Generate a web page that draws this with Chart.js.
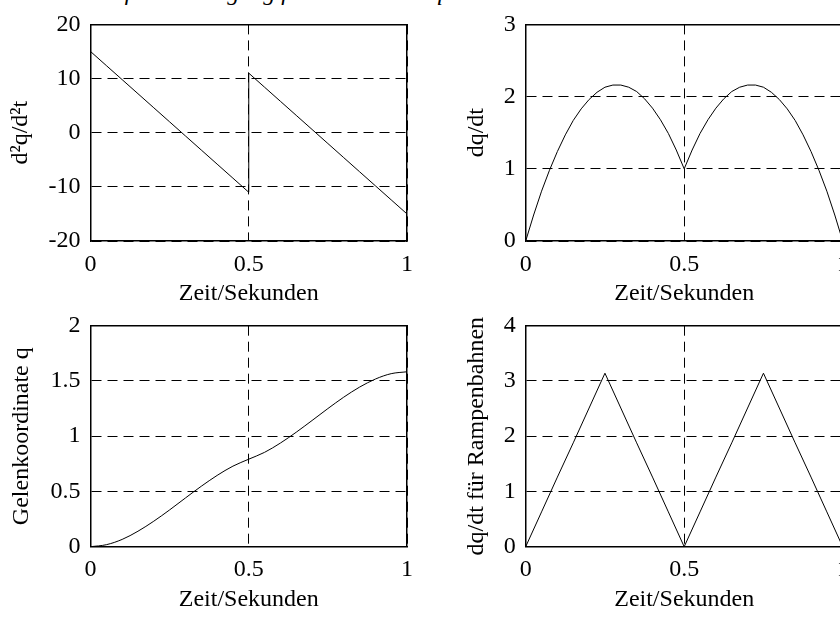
<!DOCTYPE html>
<html>
<head>
<meta charset="utf-8">
<script src="https://cdn.jsdelivr.net/npm/chart.js@4.4.0/dist/chart.umd.min.js"></script>
<style>
html,body{margin:0;padding:0;background:#fff;width:840px;height:617px;overflow:hidden;position:relative}
canvas{position:absolute}
#cap{position:absolute;left:62px;top:-20px;font:italic 24px "Liberation Serif",serif;line-height:24px;white-space:nowrap;color:#000}
</style>
</head>
<body>
<div id="cap">Verlauf der Bewegung für Bahnen mit quadratischem Ansatz</div>
<canvas id="c1" width="420" height="310" style="left:0;top:0"></canvas>
<canvas id="c2" width="480" height="310" style="left:420px;top:0"></canvas>
<canvas id="c3" width="420" height="317" style="left:0;top:300px"></canvas>
<canvas id="c4" width="480" height="317" style="left:420px;top:300px"></canvas>
<script>
// ---- data ----
const xTickValues = [0, 0.5, 1];

const zeit = [0,0.05,0.1,0.15,0.2,0.25,0.3,0.35,0.4,0.45,0.5,0.55,0.6,0.65,0.7,0.75,0.8,0.85,0.9,0.95,1];

const zeitBeschl = [0,0.05,0.1,0.15,0.2,0.25,0.3,0.35,0.4,0.45,0.5,0.5,0.55,0.6,0.65,0.7,0.75,0.8,0.85,0.9,0.95,1];
const beschleunigung = [15,12.4,9.8,7.2,4.6,2.0,-0.6,-3.2,-5.8,-8.4,-11.0,11.0,8.4,5.8,3.2,0.6,-2.0,-4.6,-7.2,-9.8,-12.4,-15];
const yTicksBeschl = [-20,-10,0,10,20];

const zeitFein = [0,0.025,0.05,0.075,0.1,0.125,0.15,0.175,0.2,0.225,0.25,0.275,0.3,0.325,0.35,0.375,0.4,0.425,0.45,0.475,0.5,
                  0.525,0.55,0.575,0.6,0.625,0.65,0.675,0.7,0.725,0.75,0.775,0.8,0.825,0.85,0.875,0.9,0.925,0.95,0.975,1];
const geschwindigkeit = [0,0.36,0.69,0.98,1.24,1.47,1.67,1.83,1.96,2.06,2.13,2.16,2.16,2.13,2.07,1.97,1.84,1.68,1.49,1.26,1.0,
                         1.26,1.49,1.68,1.84,1.97,2.07,2.13,2.16,2.16,2.13,2.06,1.96,1.83,1.67,1.47,1.24,0.98,0.69,0.36,0];
const yTicksGeschw = [0,1,2,3];

const gelenkkoordinate = [0,0.018,0.066,0.14,0.231,0.333,0.441,0.547,0.645,0.729,0.792,0.854,0.938,1.036,1.142,1.25,1.353,1.444,1.517,1.566,1.583];
const yTicksGelenk = [0,0.5,1,1.5,2];

const rampe = [0,0.63,1.26,1.88,2.51,3.14,2.51,1.88,1.26,0.63,0,0.63,1.26,1.88,2.51,3.14,2.51,1.88,1.26,0.63,0];
const yTicksRampe = [0,1,2,3,4];

const xTitle = 'Zeit/Sekunden';

// ---- chart construction ----
const FAMILY = '"Liberation Serif", "Times New Roman", serif';
const FONT = {family: FAMILY, size: 24};
const XTICK_FONT = {family: FAMILY, size: 24, lineHeight: '47px'};
const HALF_LH = FONT.size * 1.2 / 2;
const fmt = v => String(v);

function subplot(id, xs, ys, yTicks, yTitle, g, smooth) {
  const canvas = document.getElementById(id);
  const ch = canvas.height;
  const cw = canvas.width;
  const H = 67.4;
  const frame = {
    type: 'linear', min: 0, max: 1,
    ticks: {display: false},
    grid: {display: false, drawTicks: false},
    border: {display: true, color: '#000', width: 1.5}
  };
  new Chart(canvas, {
    type: 'line',
    data: {
      datasets: [{
        data: xs.map((x, i) => ({x: x, y: ys[i]})),
        borderColor: '#000', borderWidth: 1, pointRadius: 0,
        tension: smooth ? 0.4 : 0,
        cubicInterpolationMode: smooth ? 'monotone' : 'default',
        fill: false
      }]
    },
    options: {
      responsive: false, animation: false, events: [],
      layout: {padding: {left: 0, top: g.T - g.cy, right: g.cx + cw - g.R, bottom: ch - (g.B - g.cy) - H}},
      plugins: {legend: {display: false}, tooltip: {enabled: false}},
      scales: {
        x: {
          type: 'linear', position: 'bottom', min: 0, max: 1,
          afterBuildTicks: s => { s.ticks = xTickValues.map(v => ({value: v})); },
          ticks: {padding: 0, color: '#000', font: XTICK_FONT, maxRotation: 0, autoSkip: false, callback: fmt},
          grid: {color: '#000', lineWidth: 1, drawTicks: false},
          border: {display: true, color: '#000', width: 1.5, dash: [10, 6]},
          title: {display: true, text: xTitle, color: '#000', font: FONT, padding: 0},
          afterFit: s => { s.height = H; }
        },
        y: {
          type: 'linear', position: 'left', min: yTicks[0], max: yTicks[yTicks.length - 1],
          afterBuildTicks: s => { s.ticks = yTicks.map(v => ({value: v})); },
          ticks: {padding: 10, color: '#000', font: FONT, autoSkip: false, callback: fmt},
          grid: {color: '#000', lineWidth: 1, drawTicks: false},
          border: {display: true, color: '#000', width: 1.5, dash: [10, 6]},
          title: {display: true, text: yTitle, color: '#000', font: FONT, padding: {top: g.yTitleX - g.cx - HALF_LH, bottom: 0}},
          afterFit: s => { s.width = g.L - g.cx; }
        },
        x2: Object.assign({}, frame, {position: 'top', afterFit: s => { s.height = 0; }}),
        y2: Object.assign({}, frame, {position: 'right', min: yTicks[0], max: yTicks[yTicks.length - 1], afterFit: s => { s.width = 0; }})
      }
    }
  });
}

subplot('c1', zeitBeschl, beschleunigung, yTicksBeschl, 'd²q/d²t',
  {cx: 0, cy: 0, L: 90.5, T: 21.5, R: 407, B: 241, yTitleX: 21}, false);
subplot('c2', zeitFein, geschwindigkeit, yTicksGeschw, 'dq/dt',
  {cx: 420, cy: 0, L: 525.7, T: 21.5, R: 842.7, B: 241, yTitleX: 477}, false);
subplot('c3', zeit, gelenkkoordinate, yTicksGelenk, 'Gelenkoordinate q',
  {cx: 0, cy: 300, L: 90.5, T: 325.7, R: 407, B: 546.7, yTitleX: 22}, true);
subplot('c4', zeit, rampe, yTicksRampe, 'dq/dt für Rampenbahnen',
  {cx: 420, cy: 300, L: 525.7, T: 325.7, R: 842.7, B: 546.7, yTitleX: 477}, false);
</script>
</body>
</html>
